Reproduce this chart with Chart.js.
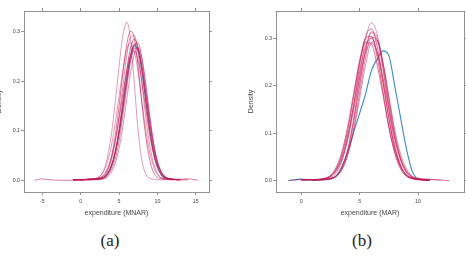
<!DOCTYPE html>
<html>
<head>
<meta charset="utf-8">
<script src="https://cdn.jsdelivr.net/npm/chart.js@4.4.1/dist/chart.umd.min.js"></script>
<style>
  body { margin: 0; background: #fff; overflow: hidden; }
  #wrap { position: relative; width: 466px; height: 259px; }
  canvas { position: absolute; top: 0; }
  .cap { position: absolute; top: 230px; width: 60px; text-align: center;
         font: 17px "Liberation Serif", "DejaVu Serif", serif; line-height: 22px; color: #222; }
</style>
</head>
<body>
<div id="wrap">
  <canvas id="mnar" width="238" height="220" style="left:-5px"></canvas>
  <canvas id="mar" width="233" height="220" style="left:233px"></canvas>
  <div class="cap" style="left:80px">(a)</div>
  <div class="cap" style="left:332px">(b)</div>
</div>
<script>
// panel (a): expenditure (MNAR)
var mnarX = [-6, -5, -4, -2, -1, 0, 1, 2, 3, 3.5, 4, 4.5, 5, 5.5, 6, 6.5, 7, 7.5, 8, 8.5, 9, 9.5, 10, 10.5, 11, 12, 13, 14, 15.3];
var mnarObs = [null, null, null, null, 0.001, 0.001, 0.002, 0.003, 0.005, 0.013, 0.028, 0.055, 0.096, 0.149, 0.205, 0.251, 0.272, 0.261, 0.218, 0.159, 0.101, 0.056, 0.027, 0.011, 0.004, 0.002, null, null, null];
var mnarImp = [
  [null, null, null, null, 0.001, 0.001, 0.002, 0.004, 0.020, 0.047, 0.092, 0.157, 0.230, 0.292, 0.319, 0.286, 0.194, 0.099, 0.039, 0.012, 0.004, 0.002, 0.001, 0.001, 0.001, null, null, null, null],
  [null, null, null, null, 0.001, 0.001, 0.002, 0.003, 0.009, 0.021, 0.047, 0.090, 0.149, 0.217, 0.274, 0.301, 0.286, 0.228, 0.152, 0.087, 0.041, 0.016, 0.006, 0.003, 0.002, 0.001, null, null, null],
  [null, null, null, null, null, 0.001, 0.002, 0.003, 0.008, 0.018, 0.040, 0.077, 0.129, 0.191, 0.251, 0.289, 0.292, 0.255, 0.193, 0.125, 0.071, 0.034, 0.014, 0.005, 0.003, 0.001, 0.001, null, null],
  [null, null, null, null, 0.001, 0.001, 0.001, 0.002, 0.005, 0.013, 0.029, 0.057, 0.103, 0.161, 0.221, 0.267, 0.285, 0.267, 0.221, 0.161, 0.103, 0.057, 0.029, 0.013, 0.005, 0.002, 0.001, null, null],
  [null, null, null, null, null, 0.001, 0.001, 0.002, 0.004, 0.009, 0.021, 0.043, 0.079, 0.130, 0.187, 0.241, 0.274, 0.277, 0.245, 0.188, 0.127, 0.074, 0.038, 0.017, 0.007, 0.002, 0.001, null, null],
  [null, null, null, null, 0.001, 0.001, 0.002, 0.002, 0.006, 0.013, 0.028, 0.053, 0.092, 0.142, 0.196, 0.242, 0.267, 0.264, 0.230, 0.175, 0.118, 0.070, 0.036, 0.017, 0.007, 0.002, 0.001, 0.001, null],
  [null, null, null, null, null, 0.001, 0.001, 0.001, 0.003, 0.007, 0.016, 0.034, 0.064, 0.109, 0.163, 0.216, 0.255, 0.268, 0.245, 0.193, 0.132, 0.077, 0.039, 0.017, 0.007, 0.002, 0.001, null, null],
  [null, null, null, null, 0.001, 0.002, 0.002, 0.003, 0.011, 0.024, 0.046, 0.079, 0.123, 0.175, 0.221, 0.253, 0.261, 0.241, 0.196, 0.143, 0.092, 0.053, 0.026, 0.012, 0.005, 0.002, 0.001, null, null],
  [0.000, 0.003, 0.001, 0.000, 0.000, 0.001, 0.002, 0.003, 0.006, 0.014, 0.030, 0.058, 0.099, 0.151, 0.205, 0.252, 0.275, 0.267, 0.229, 0.174, 0.115, 0.067, 0.034, 0.016, 0.007, 0.003, 0.002, 0.003, 0.000],
  [null, null, null, null, 0.001, 0.001, 0.002, 0.004, 0.018, 0.038, 0.069, 0.115, 0.169, 0.222, 0.263, 0.278, 0.260, 0.216, 0.157, 0.100, 0.056, 0.028, 0.012, 0.005, 0.003, 0.001, null, null, null]
];
var mnarTicks = [-5, 0, 5, 10, 15];

// panel (b): expenditure (MAR)
var marX = [-1.1, 0, 1, 2, 2.5, 3, 3.5, 4, 4.5, 5, 5.5, 6, 6.5, 7, 7.5, 8, 8.5, 9, 9.5, 10, 11, 12, 12.7];
var marObs = [0.000, 0.003, 0.001, 0.002, 0.004, 0.010, 0.031, 0.062, 0.103, 0.142, 0.182, 0.231, 0.256, 0.273, 0.263, 0.200, 0.133, 0.068, 0.020, 0.004, 0.001, null, null];
var marImp = [
  [null, 0.001, 0.002, 0.003, 0.005, 0.010, 0.028, 0.068, 0.133, 0.219, 0.296, 0.332, 0.308, 0.235, 0.150, 0.078, 0.034, 0.012, 0.005, 0.003, 0.001, null, null],
  [null, null, 0.001, 0.003, 0.006, 0.017, 0.043, 0.092, 0.162, 0.242, 0.303, 0.319, 0.282, 0.210, 0.132, 0.069, 0.030, 0.011, 0.005, 0.002, 0.001, null, null],
  [null, null, 0.001, 0.002, 0.004, 0.011, 0.030, 0.067, 0.129, 0.204, 0.275, 0.311, 0.295, 0.236, 0.158, 0.090, 0.042, 0.017, 0.006, 0.003, 0.001, null, null],
  [null, 0.001, 0.002, 0.004, 0.010, 0.025, 0.057, 0.109, 0.179, 0.251, 0.299, 0.304, 0.260, 0.187, 0.112, 0.058, 0.025, 0.009, 0.004, 0.002, 0.001, null, null],
  [null, null, 0.001, 0.002, 0.003, 0.009, 0.024, 0.057, 0.111, 0.185, 0.258, 0.301, 0.296, 0.249, 0.178, 0.108, 0.056, 0.025, 0.009, 0.004, 0.002, 0.001, null],
  [null, 0.001, 0.002, 0.004, 0.009, 0.023, 0.051, 0.098, 0.160, 0.230, 0.282, 0.300, 0.270, 0.205, 0.131, 0.070, 0.031, 0.012, 0.005, 0.002, 0.001, null, null],
  [null, null, 0.001, 0.002, 0.004, 0.009, 0.024, 0.055, 0.106, 0.173, 0.243, 0.290, 0.294, 0.247, 0.173, 0.100, 0.048, 0.019, 0.007, 0.003, 0.001, null, null],
  [null, 0.001, 0.002, 0.005, 0.011, 0.029, 0.063, 0.117, 0.186, 0.252, 0.291, 0.287, 0.243, 0.179, 0.114, 0.062, 0.029, 0.012, 0.005, 0.003, 0.001, null, null],
  [0.000, 0.002, 0.002, 0.004, 0.009, 0.021, 0.046, 0.089, 0.150, 0.216, 0.270, 0.290, 0.270, 0.216, 0.150, 0.089, 0.046, 0.021, 0.009, 0.005, 0.003, 0.001, 0.000],
  [null, null, 0.001, 0.002, 0.004, 0.010, 0.027, 0.063, 0.123, 0.199, 0.272, 0.313, 0.302, 0.245, 0.167, 0.096, 0.046, 0.019, 0.007, 0.003, 0.001, null, null]
];
var marTicks = [0, 5, 10];
var yTicks = [0, 0.1, 0.2, 0.3];

var redAlpha = [0.55, 0.75, 0.6, 0.85, 0.65, 0.8, 0.6, 0.75, 0.7, 0.55];
var axisGrey = '#777';
var textGrey = '#444';

function points(xs, ys) {
  var out = [];
  for (var i = 0; i < xs.length; i++) {
    if (ys[i] !== null) out.push({ x: xs[i], y: ys[i] });
  }
  return out;
}

function fixTicks(list) {
  return function (scale) {
    scale.ticks = list.map(function (v) { return { value: v }; });
  };
}

function side(size, horizontal) {
  return function (scale) {
    if (horizontal) scale.height = size; else scale.width = size;
  };
}

function drawPanel(id, xs, obs, imps, xr, yr, xTicks, xTitle, yTitlePad, widths) {
  var datasets = [];
  imps.forEach(function (ys, i) {
    datasets.push({
      data: points(xs, ys),
      borderColor: 'rgba(196, 24, 84, ' + redAlpha[i] + ')',
      borderWidth: 0.8,
      order: 1
    });
  });
  datasets.push({
    data: points(xs, obs),
    borderColor: 'rgb(54, 140, 206)',
    borderWidth: 1.1,
    order: 2
  });

  var tickFont = { family: '"Liberation Sans", Arial, sans-serif', size: 5.3 };
  var titleFont = { family: '"Liberation Sans", Arial, sans-serif', size: 7 };
  var grid = { drawOnChartArea: false, tickLength: 3, color: axisGrey, lineWidth: 0.8 };
  var border = { display: true, color: axisGrey, width: 0.8 };

  new Chart(document.getElementById(id), {
    type: 'scatter',
    data: { datasets: datasets },
    options: {
      responsive: false,
      animation: false,
      devicePixelRatio: 1,
      layout: { padding: 0, autoPadding: false },
      elements: {
        point: { radius: 0 },
        line: { cubicInterpolationMode: 'monotone', fill: false }
      },
      datasets: { scatter: { showLine: true } },
      plugins: { legend: { display: false }, tooltip: { enabled: false } },
      scales: {
        x: {
          type: 'linear', position: 'bottom', min: xr[0], max: xr[1],
          afterBuildTicks: fixTicks(xTicks), afterFit: side(28, true),
          grid: grid, border: border,
          ticks: { font: tickFont, color: textGrey, padding: 3.5, maxRotation: 0 },
          title: { display: true, text: xTitle, font: titleFont, color: textGrey, padding: { top: 0, bottom: 3 } }
        },
        x2: {
          type: 'linear', position: 'top', min: xr[0], max: xr[1],
          afterBuildTicks: fixTicks(xTicks), afterFit: side(11, true),
          grid: grid, border: border, ticks: { display: false }
        },
        y: {
          type: 'linear', position: 'left', min: yr[0], max: yr[1],
          afterBuildTicks: fixTicks(yTicks), afterFit: side(widths[0], false),
          grid: grid, border: border,
          ticks: { font: tickFont, color: textGrey, padding: 1,
            callback: function (v) { return v.toFixed(1); } },
          title: { display: true, text: 'Density', font: titleFont, color: textGrey, padding: { top: yTitlePad, bottom: 0 } }
        },
        y2: {
          type: 'linear', position: 'right', min: yr[0], max: yr[1],
          afterBuildTicks: fixTicks(yTicks), afterFit: side(widths[1], false),
          grid: grid, border: border, ticks: { display: false }
        }
      }
    }
  });
}

drawPanel('mnar', mnarX, mnarObs, mnarImp, [-7.39, 16.73], [-0.0236, 0.3418], mnarTicks, 'expenditure (MNAR)', 0, [29, 24]);
drawPanel('mar', marX, marObs, marImp, [-2.17, 13.94], [-0.024, 0.357], marTicks, 'expenditure (MAR)', 14, [43, 2]);
</script>
</body>
</html>
